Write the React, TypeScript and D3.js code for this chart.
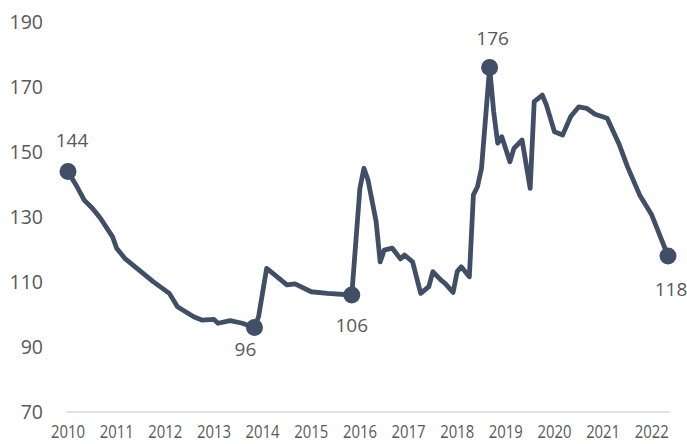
import React from "react";
import * as d3 from "d3";

const dates = [
  "2010-01","2010-03","2010-05","2010-07","2010-09","2010-12","2011-01","2011-03","2011-07","2011-10",
  "2012-02","2012-04","2012-08","2012-10","2013-01","2013-02","2013-05","2013-08","2013-11","2013-12",
  "2014-02","2014-04","2014-07","2014-09","2015-01","2015-05","2015-11","2016-01","2016-02","2016-03",
  "2016-05","2016-06","2016-07","2016-09","2016-11","2016-12","2017-02","2017-04","2017-06","2017-07",
  "2017-09","2017-10","2017-12","2018-01","2018-02","2018-04","2018-05","2018-06","2018-07","2018-09",
  "2018-10","2018-11","2018-12","2019-02","2019-03","2019-05","2019-07","2019-08","2019-10","2019-11",
  "2020-01","2020-03","2020-05","2020-07","2020-09","2020-11","2021-02","2021-05","2021-07","2021-10",
  "2022-01","2022-05"
];
const values = [
  144, 139.8, 135.2, 132.7, 129.6, 123.9, 120.4, 117.3, 113.2, 110.1,
  106.5, 102.4, 99.3, 98.3, 98.5, 97.3, 98.1, 97.3, 96, 99.3,
  114.2, 112.2, 109.1, 109.4, 107, 106.5, 106, 138.8, 145, 141.4,
  128.6, 116.2, 119.8, 120.4, 117.1, 118.3, 116.2, 106.5, 108.6, 113.2,
  110.6, 109.6, 106.8, 113.2, 114.7, 111.6, 136.8, 139.3, 145, 176,
  162.4, 152.7, 154.7, 147, 151.1, 153.7, 138.8, 165.5, 167.5, 164.5,
  156.2, 155.2, 160.9, 163.9, 163.4, 161.6, 160.4, 152.2, 145.5, 136.8,
  130.6, 118
];
const highlightDates = ["2010-01", "2013-11", "2015-11", "2018-09", "2022-05"];
const yearLabels = ["2010","2011","2012","2013","2014","2015","2016","2017","2018","2019","2020","2021","2022"];
const yTicks = [70, 90, 110, 130, 150, 170, 190];

// label placement (style only)
const labelOffsets: Record<string, [number, number]> = {
  "2010-01": [4, -25],
  "2013-11": [-9, 28],
  "2015-11": [0, 37],
  "2018-09": [3, -23],
  "2022-05": [3, 40],
};

const monthIndex = (s: string) => {
  const [y, m] = s.split("-").map(Number);
  return (y - 2010) * 12 + (m - 1);
};

export default function App() {
  const W = 687, H = 444;
  const x = d3.scaleLinear().domain([0, 148]).range([68, 668]);
  const y = d3.scaleLinear().domain([70, 190]).range([412, 22]);
  const data = dates.map((d, i) => ({ d, m: monthIndex(d), v: values[i] }));
  const line = d3.line<{ m: number; v: number }>()
    .x((p) => x(p.m))
    .y((p) => y(p.v));
  const color = "#404f66";
  const textColor = "#595959";
  const font = "'Open Sans', 'Liberation Sans', sans-serif";

  return (
    <svg width={W} height={H} style={{ position: "absolute", left: 0, top: 0, background: "#fff" }}>
      <rect width={W} height={H} fill="#fff" />
      {yTicks.map((t) => (
        <text key={t} x={43} y={y(t) + 7} textAnchor="end" fontFamily={font} fontSize={19.5} fill={textColor}>
          {t}
        </text>
      ))}
      <line x1={66} x2={670} y1={y(70)} y2={y(70)} stroke="#d9d9d9" strokeWidth={1.5} />
      {yearLabels.map((lab, i) => (
        <text key={lab} x={x(i * 12)} y={438} textAnchor="middle" fontFamily={font} fontSize={19}
          fill={textColor} textLength={34} lengthAdjust="spacingAndGlyphs">
          {lab}
        </text>
      ))}
      <path d={line(data) || ""} fill="none" stroke={color} strokeWidth={4.8} strokeLinejoin="round" strokeLinecap="round" />
      {data.filter((p) => highlightDates.includes(p.d)).map((p) => {
        const [dx, dy] = labelOffsets[p.d];
        return (
          <g key={p.d}>
            <circle cx={x(p.m)} cy={y(p.v)} r={8.5} fill={color} />
            <text x={x(p.m) + dx} y={y(p.v) + dy} textAnchor="middle" fontFamily={font} fontSize={19}
              fill={textColor}>
              {Math.round(p.v)}
            </text>
          </g>
        );
      })}
    </svg>
  );
}
